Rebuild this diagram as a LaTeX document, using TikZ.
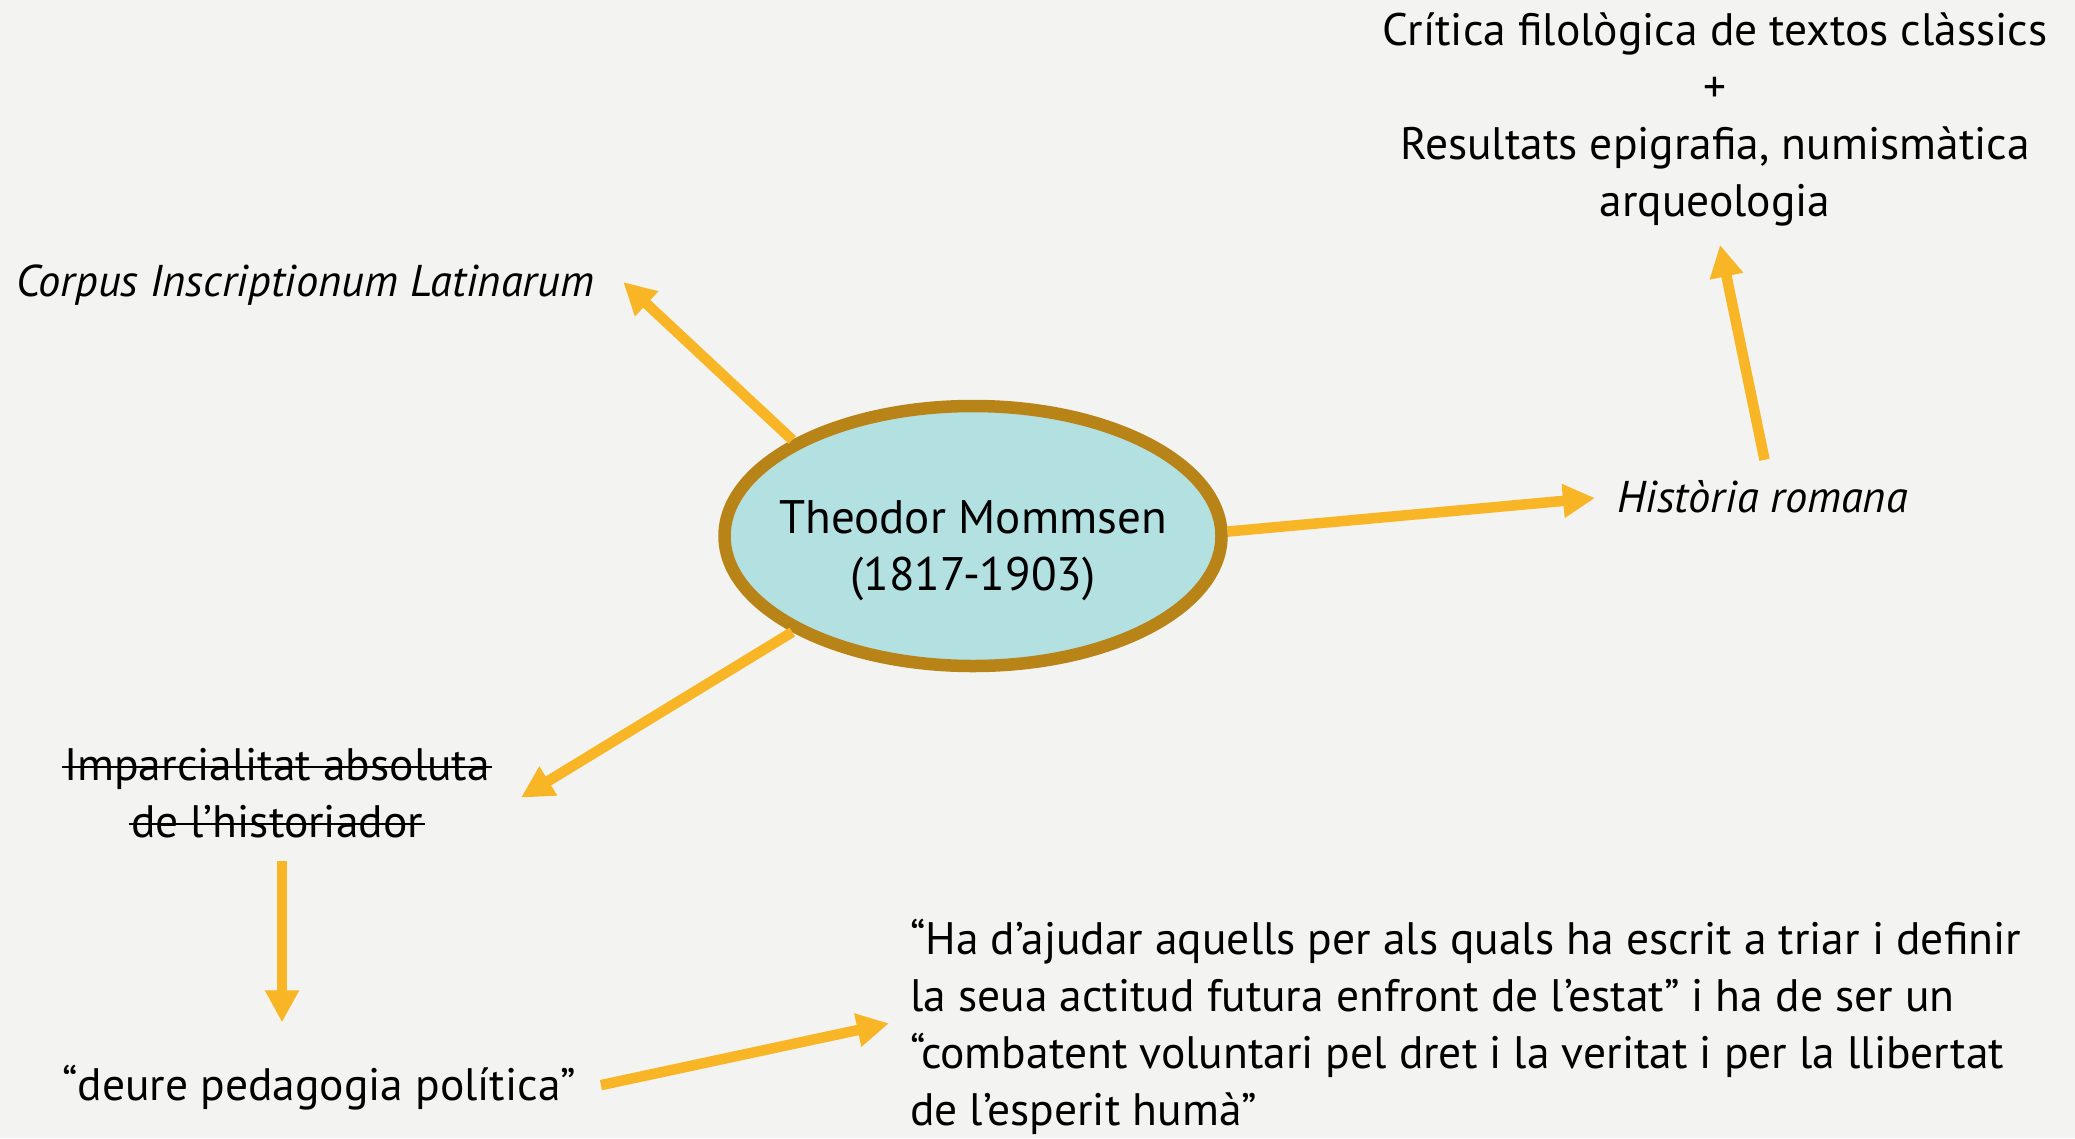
\documentclass[tikz,border=0pt]{standalone}
\usepackage{fontspec}
\setmainfont{PT Sans}
\newcommand\mystrike[1]{\setbox0\hbox{#1}\rlap{\kern-2pt\rule[12pt]{\dimexpr\wd0+4pt\relax}{2.2pt}}\box0}
\usetikzlibrary{shapes.geometric,arrows.meta,calc}
\definecolor{bgc}{RGB}{243,243,241}
\definecolor{ellfill}{RGB}{179,224,225}
\definecolor{ellline}{RGB}{184,132,24}
\definecolor{amber}{RGB}{248,181,38}
\begin{document}
\begin{tikzpicture}[x=1pt,y=-1pt,
  txt/.style={inner sep=0pt, font=\fontsize{45.5}{57}\selectfont, text=black},
  itxt/.style={inner sep=0pt, font=\fontsize{44.5}{57}\selectfont\itshape, text=black},
  conn/.style={draw=amber, line width=10.5pt, -{Triangle[length=32pt,width=32pt]}},
]
\fill[bgc] (0,0) rectangle (2075,1138);
\useasboundingbox (0,0) rectangle (2075,1138);

\node[ellipse, draw=ellline, line width=12.5pt, fill=ellfill, minimum width=497pt, minimum height=260pt, inner sep=0pt] (ell) at (973,536) {};
\node[txt, font=\fontsize{47}{57}\selectfont, align=center, anchor=base] (name) at (973,590) {Theodor Mommsen\\(1817-1903)};

\node[itxt, anchor=base west] (corpus) at (16,296) {Corpus Inscriptionum Latinarum};
\node[itxt, anchor=base west] (hist) at (1617,512) {Història romana};
\node[txt, align=center, anchor=base] (crit) at (1715,216) {Crítica filològica de textos clàssics\\+\\Resultats epigrafia, numismàtica\\arqueologia};
\node[txt, align=center, anchor=base] (imp) at (277,837) {\mystrike{Imparcialitat absoluta}\\\mystrike{de l’historiador}};
\node[txt, anchor=base west] (deure) at (62,1100) {“deure pedagogia política”};
\node[txt, align=left, anchor=base west] (quote) at (910,1125) {“Ha d’ajudar aquells per als quals ha escrit a triar i definir\\la seua actitud futura enfront de l’estat” i ha de ser un\\“combatent voluntari pel dret i la veritat i per la llibertat\\de l’esperit humà”};

\draw[conn] (ell.152) -- ($(corpus.base east)+(29,-14)$);
\draw[conn] (ell.1) -- ($(hist.base west)+(-22,-14)$);
\draw[conn] ($(hist.north)+(2,-20)$) -- ($(crit.south)+(5,19)$);
\draw[conn] (ell.208) -- ($(imp.north east)+(31,50)$);
\draw[conn] ($(imp.south)+(5,23)$) -- ($(imp.south |- deure.north)+(5,-42)$);
\draw[conn] ($(deure.east)+(25,-2)$) -- ($(quote.west)+(-21,-3)$);
\end{tikzpicture}
\end{document}
